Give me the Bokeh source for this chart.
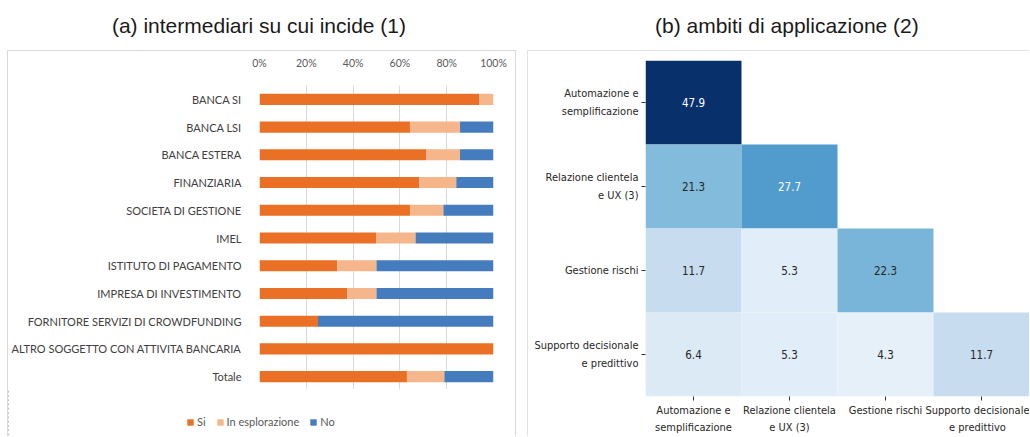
from bokeh.plotting import figure
from bokeh.models import (FactorRange, Range1d, FixedTicker, PrintfTickFormatter,
                          Legend, LegendItem, Div, ColumnDataSource)
from bokeh.layouts import row, column
from bokeh.palettes import Blues256
from bokeh.transform import linear_cmap
from bokeh.core.properties import value
from bokeh.embed import file_html
from bokeh.resources import INLINE

# ---------------- data: panel (a) ----------------
categories = ["BANCA SI", "BANCA LSI", "BANCA ESTERA", "FINANZIARIA",
              "SOCIETA DI GESTIONE", "IMEL", "ISTITUTO DI PAGAMENTO",
              "IMPRESA DI INVESTIMENTO", "FORNITORE SERVIZI DI CROWDFUNDING",
              "ALTRO SOGGETTO CON ATTIVITA BANCARIA", "Totale"]
si = [94.0, 64.3, 71.4, 68.2, 64.3, 50.0, 33.3, 37.5, 25.0, 100.0, 63.0]
esplorazione = [6.0, 21.4, 14.3, 15.9, 14.3, 16.7, 16.7, 12.5, 0.0, 0.0, 16.0]
no = [0.0, 14.3, 14.3, 15.9, 21.4, 33.3, 50.0, 50.0, 75.0, 0.0, 21.0]
series_labels = ["Si", "In esplorazione", "No"]
pct_ticks = [0, 20, 40, 60, 80, 100]

# ---------------- data: panel (b) ----------------
ambiti = ["Automazione e\nsemplificazione", "Relazione clientela\ne UX (3)",
          "Gestione rischi", "Supporto decisionale\ne predittivo"]
heat_values = [
    [47.9, None, None, None],
    [21.3, 27.7, None, None],
    [11.7, 5.3, 22.3, None],
    [6.4, 5.3, 4.3, 11.7],
]

title_a = "(a) intermediari su cui incide (1)"
title_b = "(b) ambiti di applicazione (2)"

bar_colors = ["#E97025", "#F6B68B", "#457CBE"]
XLF = "Lato"
MPL = "DejaVu Sans Condensed"
BOX = "1px solid #d9d9d9"

# ---------------- panel (a) ----------------
src_a = ColumnDataSource(dict(cat=categories, Si=si, Expl=esplorazione, No=no))
p1 = figure(width=509, height=339, y_range=FactorRange(factors=categories[::-1]),
            x_range=Range1d(0, 100), x_axis_location="above",
            output_backend="svg", toolbar_location=None,
            min_border_left=245, min_border_right=24, min_border_top=34,
            min_border_bottom=0, margin=(0, 0, 0, 7))
p1.styles = {"border-top": BOX, "border-left": BOX, "border-right": BOX}
rs = p1.hbar_stack(["Si", "Expl", "No"], y="cat", height=0.4, color=bar_colors,
                   source=src_a, line_color=None)
p1.outline_line_color = None
p1.ygrid.grid_line_color = None
p1.xgrid.grid_line_color = "#d9d9d9"
p1.xgrid.ticker = FixedTicker(ticks=pct_ticks)
p1.xaxis.ticker = FixedTicker(ticks=pct_ticks)
p1.xaxis.formatter = PrintfTickFormatter(format="%d%%")
for ax in (p1.xaxis[0], p1.yaxis[0]):
    ax.axis_line_color = None
    ax.major_tick_line_color = None
    ax.minor_tick_line_color = None
    ax.major_label_text_font = XLF
p1.xaxis.major_label_text_font_size = "10.5px"
p1.xaxis.major_label_text_color = "#595959"
p1.xaxis.major_label_standoff = 11
p1.yaxis.major_label_text_font_size = "11px"
p1.yaxis.major_label_text_color = "#404040"
p1.yaxis.major_label_standoff = 12

# legend strip under panel (a): same bars, drawn outside its visible range
lf = figure(width=509, height=47, x_range=Range1d(200, 300),
            y_range=FactorRange(factors=categories[::-1]),
            x_axis_type=None, y_axis_type=None, output_backend="svg",
            toolbar_location=None, min_border=0, min_border_bottom=0,
            margin=(0, 0, 0, 7))
lf.styles = {"border-left": BOX, "border-right": BOX}
lf.outline_line_color = None
lf.grid.grid_line_color = None
if "frame_align" in lf.properties():
    lf.frame_align = False
    legend_loc = (178, 8)
else:
    legend_loc = (0, 8)
lrs = lf.hbar_stack(["Si", "Expl", "No"], y="cat", height=0.4, color=bar_colors,
                    source=src_a, line_color=None)
legend = Legend(items=[LegendItem(label=lab, renderers=[r]) for lab, r in zip(series_labels, lrs)],
                location=legend_loc, orientation="horizontal",
                glyph_width=8, glyph_height=8, label_standoff=3, spacing=10,
                label_width=5, label_text_font_size="11px", label_text_font=XLF,
                label_text_color="#595959", label_height=12, padding=3,
                border_line_color=None, background_fill_alpha=0)
lf.add_layout(legend, "center")

# ---------------- panel (b) ----------------
xs, ys, vs = [], [], []
for i, rowvals in enumerate(heat_values):
    for j, v in enumerate(rowvals):
        if v is not None:
            xs.append(ambiti[j]); ys.append(ambiti[i]); vs.append(v)
labels = [f"{v:.1f}" for v in vs]
txt_col = ["white" if v > 25 else "#262626" for v in vs]
src_b = ColumnDataSource(dict(x=xs, y=ys, v=vs, lab=labels, tc=txt_col))

p2 = figure(width=502, height=386, x_range=FactorRange(factors=ambiti),
            y_range=FactorRange(factors=ambiti[::-1]),
            output_backend="svg", toolbar_location=None,
            min_border_left=117, min_border_right=1, min_border_top=9,
            min_border_bottom=40, margin=0)
p2.styles = {"border-top": "1px solid #e3e3e3", "border-left": "1px solid #e3e3e3"}
p2.rect(x="x", y="y", width=1, height=1, source=src_b, line_color=None,
        fill_color=linear_cmap("v", list(reversed(Blues256)), low=0, high=max(vs)))
p2.text(x="x", y="y", text="lab", source=src_b, text_align="center",
        text_baseline="middle", text_font=value(MPL), text_font_size="11.5px",
        text_color="tc")
p2.outline_line_color = None
p2.grid.grid_line_color = None
for ax in (p2.xaxis[0], p2.yaxis[0]):
    ax.axis_line_color = None
    ax.major_tick_out = 4
    ax.major_tick_in = 0
    ax.major_tick_line_color = "#333333"
    ax.major_label_text_font = MPL
    ax.major_label_text_font_size = "11px"
    ax.major_label_text_color = "#262626"
    ax.major_label_standoff = 3
    ax.major_label_text_line_height = 1.35

d1 = Div(text=title_a, width=518, height=50, margin=0,
         styles={"font-family": "Liberation Sans, Arial, sans-serif", "font-size": "21px",
                 "color": "#1a1a1a", "text-align": "center", "line-height": "52px",
                 "white-space": "nowrap"})
d2 = Div(text=title_b, width=502, height=50, margin=0,
         styles={"font-family": "Liberation Sans, Arial, sans-serif", "font-size": "21px",
                 "color": "#1a1a1a", "padding-left": "128px", "line-height": "52px",
                 "white-space": "nowrap"})

layout = row(column(d1, p1, lf, spacing=0), column(d2, p2, spacing=0), spacing=9)
open("out.html", "w").write(file_html(layout, INLINE))
